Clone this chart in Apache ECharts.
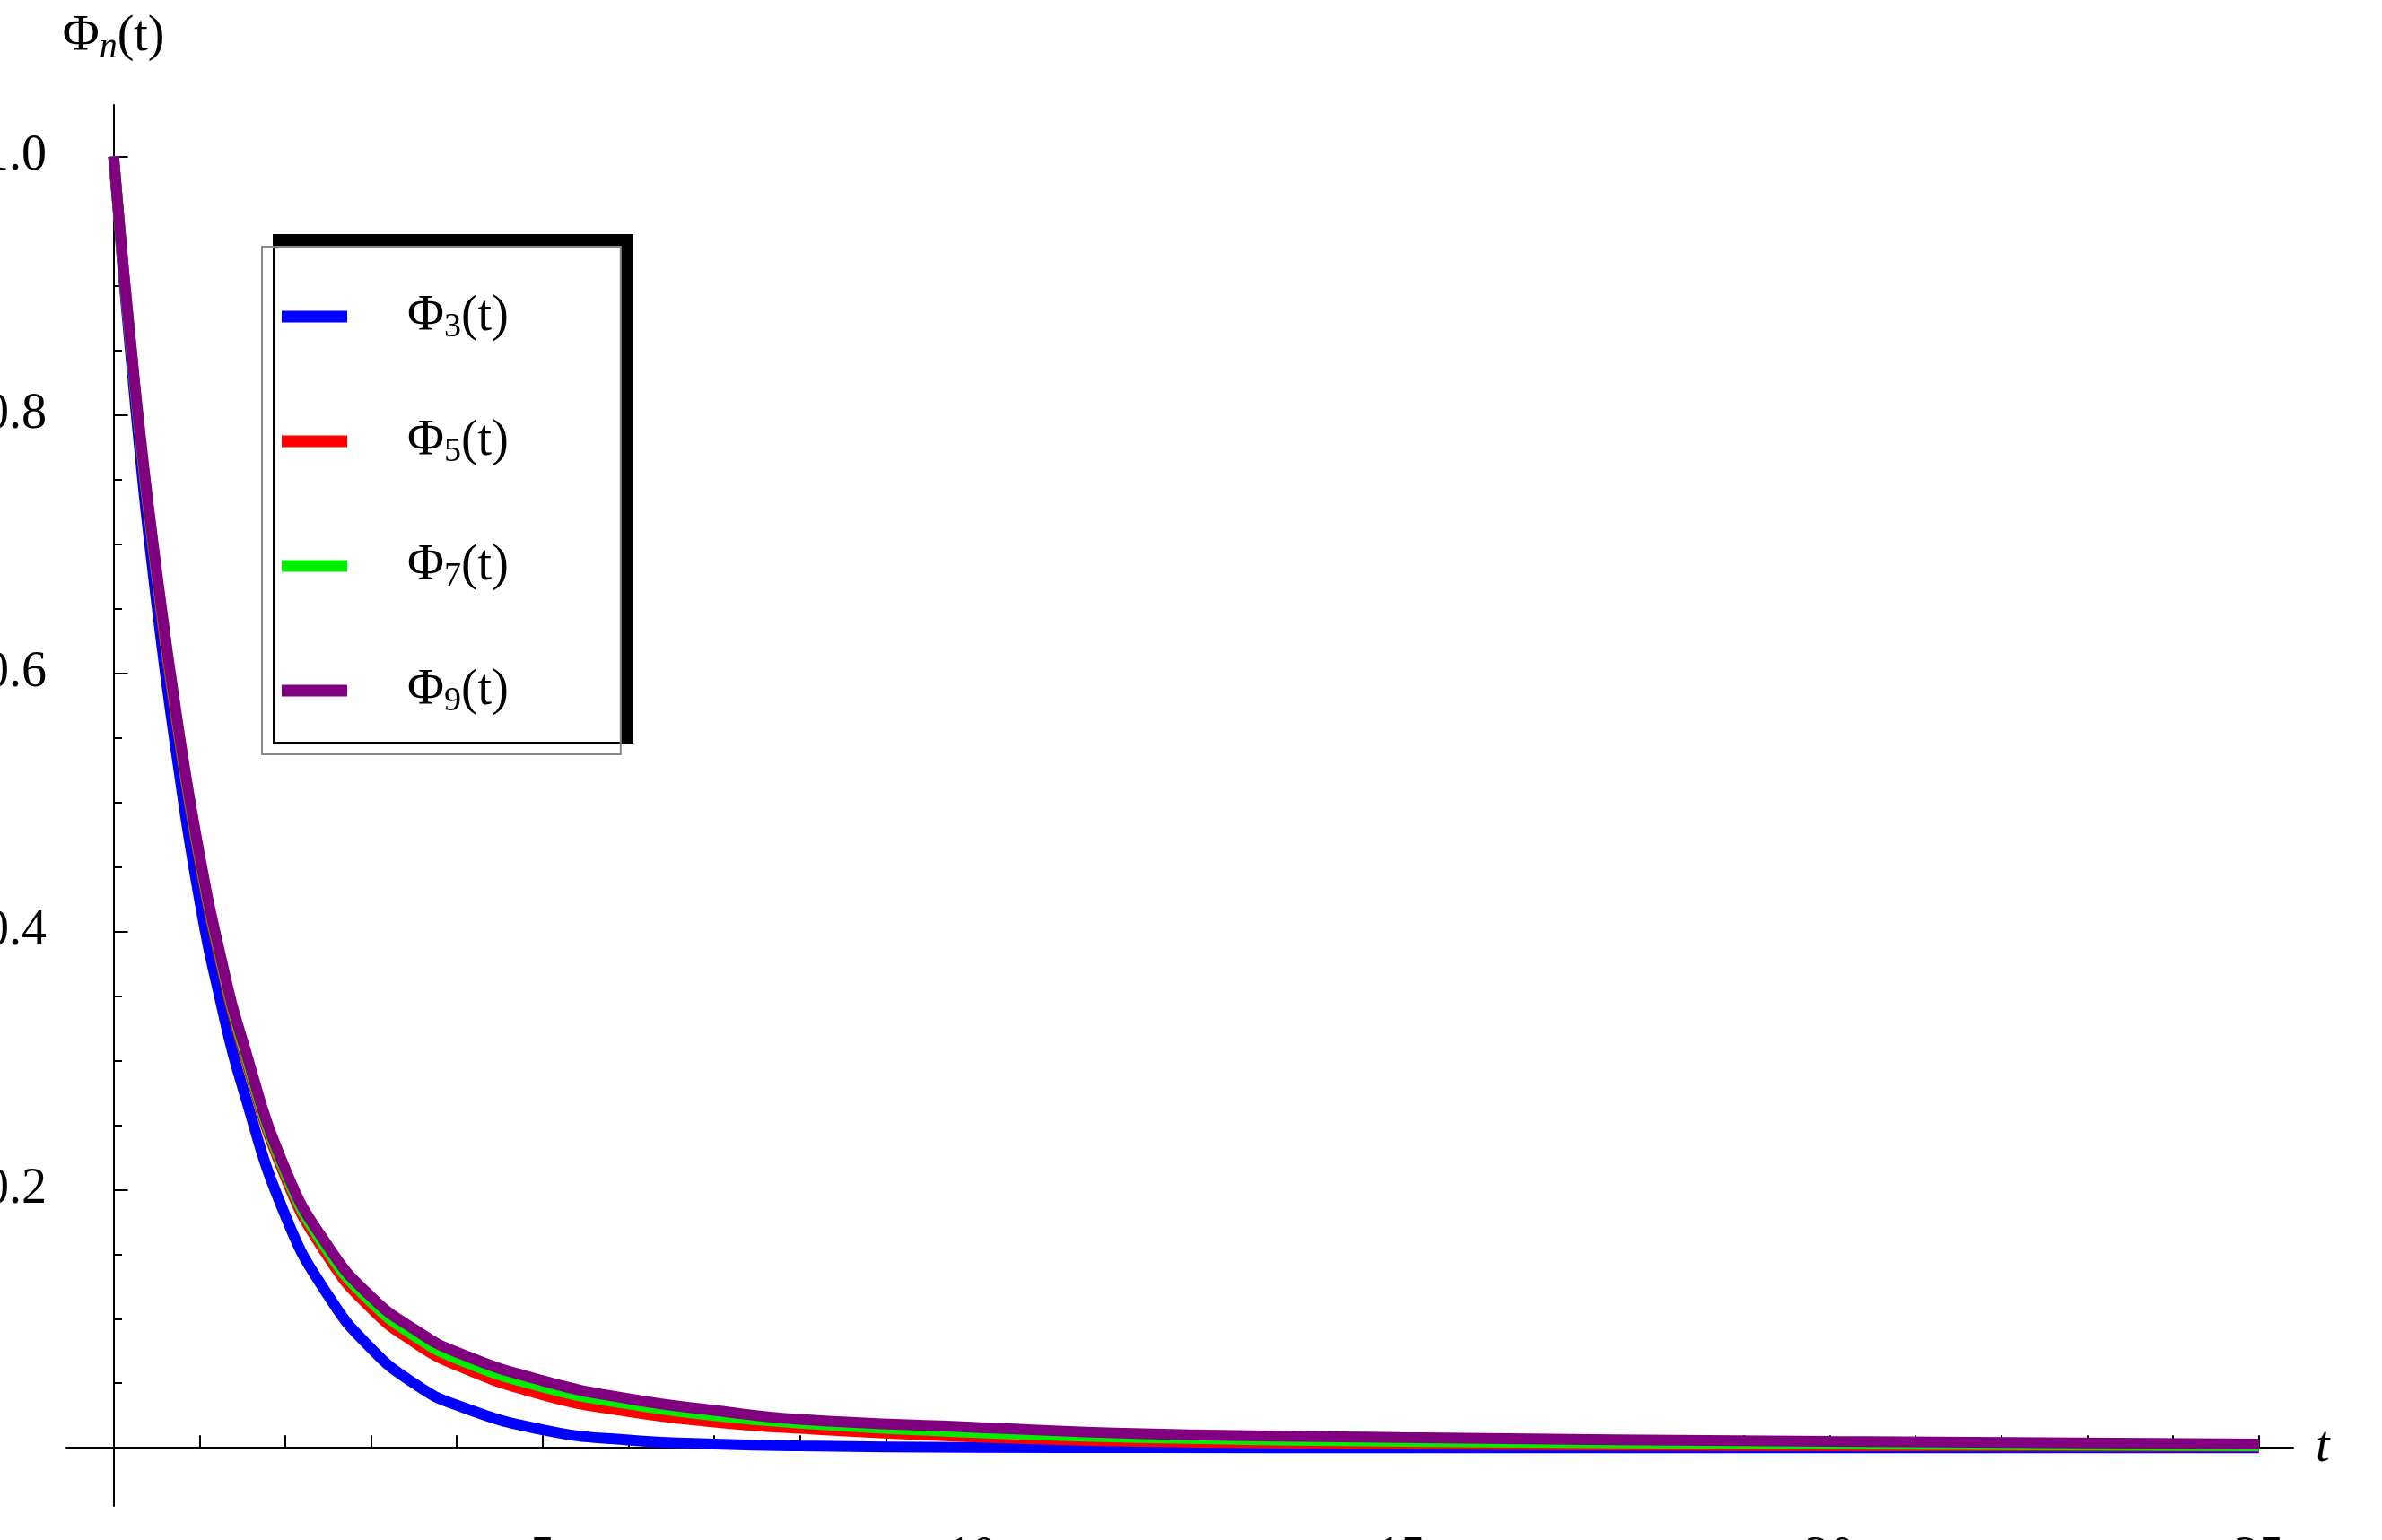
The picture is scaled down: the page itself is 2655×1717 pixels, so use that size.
<!DOCTYPE html>
<html>
<head>
<meta charset="utf-8">
<script src="https://cdn.jsdelivr.net/npm/echarts@6/dist/echarts.min.js"></script>
<style>html,body{margin:0;background:#fff}#c{width:2655px;height:1717px}</style>
</head>
<body>
<div id="c"></div>
<script>
const tValues = [0, 0.25, 0.5, 0.75, 1, 1.25, 1.5, 2, 2.5, 3, 3.5, 4, 5, 6, 7, 8, 10, 12, 15, 20, 25];
const phi3 = [1, 0.81, 0.655, 0.53, 0.425, 0.345, 0.28, 0.18, 0.118, 0.077, 0.05, 0.033, 0.014, 0.006, 0.003, 0.0015, 0.0004, 0.0001, 0, 0, 0];
const phi5 = [1, 0.82, 0.675, 0.555, 0.455, 0.375, 0.31, 0.21, 0.148, 0.108, 0.082, 0.064, 0.041, 0.028, 0.02, 0.015, 0.0085, 0.005, 0.003, 0.0015, 0.001];
const phi7 = [1, 0.82, 0.678, 0.558, 0.458, 0.378, 0.313, 0.213, 0.152, 0.113, 0.087, 0.069, 0.047, 0.034, 0.025, 0.019, 0.012, 0.008, 0.005, 0.003, 0.0015];
const phi9 = [1, 0.822, 0.68, 0.56, 0.46, 0.38, 0.316, 0.216, 0.156, 0.117, 0.092, 0.074, 0.052, 0.038, 0.029, 0.022, 0.016, 0.011, 0.008, 0.005, 0.003];
const seriesNames = ["Φ3(t)", "Φ5(t)", "Φ7(t)", "Φ9(t)"];
const seriesSubs = ["3", "5", "7", "9"];
const seriesColors = ["#0000ff", "#ff0000", "#00ee00", "#800080"];
const xLabels = [5, 10, 15, 20, 25];
const xTicks = Array.from({ length: 25 }, (_, i) => i + 1);
const yLabels = [0.2, 0.4, 0.6, 0.8, 1.0];
const yMinorTicks = Array.from({ length: 20 }, (_, i) => +((i + 1) * 0.05).toFixed(2));

const FONT = "Liberation Serif";
const allData = [phi3, phi5, phi7, phi9];

const chart = echarts.init(document.getElementById("c"));
chart.setOption({
  backgroundColor: "#fff",
  animation: false,
  grid: { left: 74, right: 99, top: 117, bottom: 38, outerBoundsMode: "none" },
  xAxis: {
    type: "value", min: -0.55, max: 25.4,
    axisLine: { onZero: true, lineStyle: { color: "#000", width: 2 } },
    axisTick: { inside: true, length: 14, customValues: xTicks, lineStyle: { color: "#000", width: 2 } },
    axisLabel: { customValues: xLabels, margin: 30, fontFamily: FONT, fontSize: 56, color: "#000" },
    splitLine: { show: false },
    name: "t", nameGap: 25,
    nameTextStyle: { fontFamily: FONT, fontSize: 56, fontStyle: "italic", color: "#000", verticalAlign: "middle" }
  },
  yAxis: [
    {
      type: "value", min: -0.045, max: 1.04,
      axisLine: { onZero: true, lineStyle: { color: "#000", width: 2 } },
      axisTick: { inside: true, length: 16, customValues: yLabels, lineStyle: { color: "#000", width: 2 } },
      axisLabel: { customValues: yLabels, margin: 22, fontFamily: FONT, fontSize: 56, color: "#000",
        formatter: (v) => v.toFixed(1) },
      splitLine: { show: false },
      name: "{a|Φ}{n|n}{a|(t)}", nameGap: 44,
      nameTextStyle: { align: "center", rich: {
        a: { fontFamily: FONT, fontSize: 56, color: "#000" },
        n: { fontFamily: FONT, fontSize: 40, fontStyle: "italic", color: "#000", padding: [24, 0, 0, 0] } } }
    },
    {
      type: "value", min: -0.045, max: 1.04, position: "left", offset: -53,
      axisLine: { show: false, onZero: false },
      axisTick: { show: true, inside: true, length: 9, customValues: yMinorTicks, lineStyle: { color: "#000", width: 2 } },
      axisLabel: { show: false },
      splitLine: { show: false }
    }
  ],
  legend: {
    left: 292, top: 275,
    orient: "vertical",
    padding: [50, 125, 40, 22],
    itemGap: 80,
    itemWidth: 73, itemHeight: 13,
    icon: "rect",
    backgroundColor: "#fff",
    borderColor: "#888", borderWidth: 2,
    shadowColor: "#000", shadowBlur: 0, shadowOffsetX: 13, shadowOffsetY: -13,
    data: seriesNames,
    formatter: (name) => {
      const i = seriesNames.indexOf(name);
      return "{sp|}{a|Φ}{s|" + seriesSubs[i] + "}{a|(t)}";
    },
    textStyle: { rich: {
      sp: { width: 62 },
      a: { fontFamily: FONT, fontSize: 56, color: "#000" },
      s: { fontFamily: FONT, fontSize: 38, color: "#000", verticalAlign: "bottom", padding: [24, 0, 0, 0] } } }
  },
  series: allData.map((d, i) => ({
    name: seriesNames[i],
    type: "line", smooth: true, showSymbol: false, z: 2 + i,
    color: seriesColors[i],
    lineStyle: { width: 12, color: seriesColors[i] },
    data: tValues.map((t, j) => [t, d[j]])
  }))
});
</script>
</body>
</html>
